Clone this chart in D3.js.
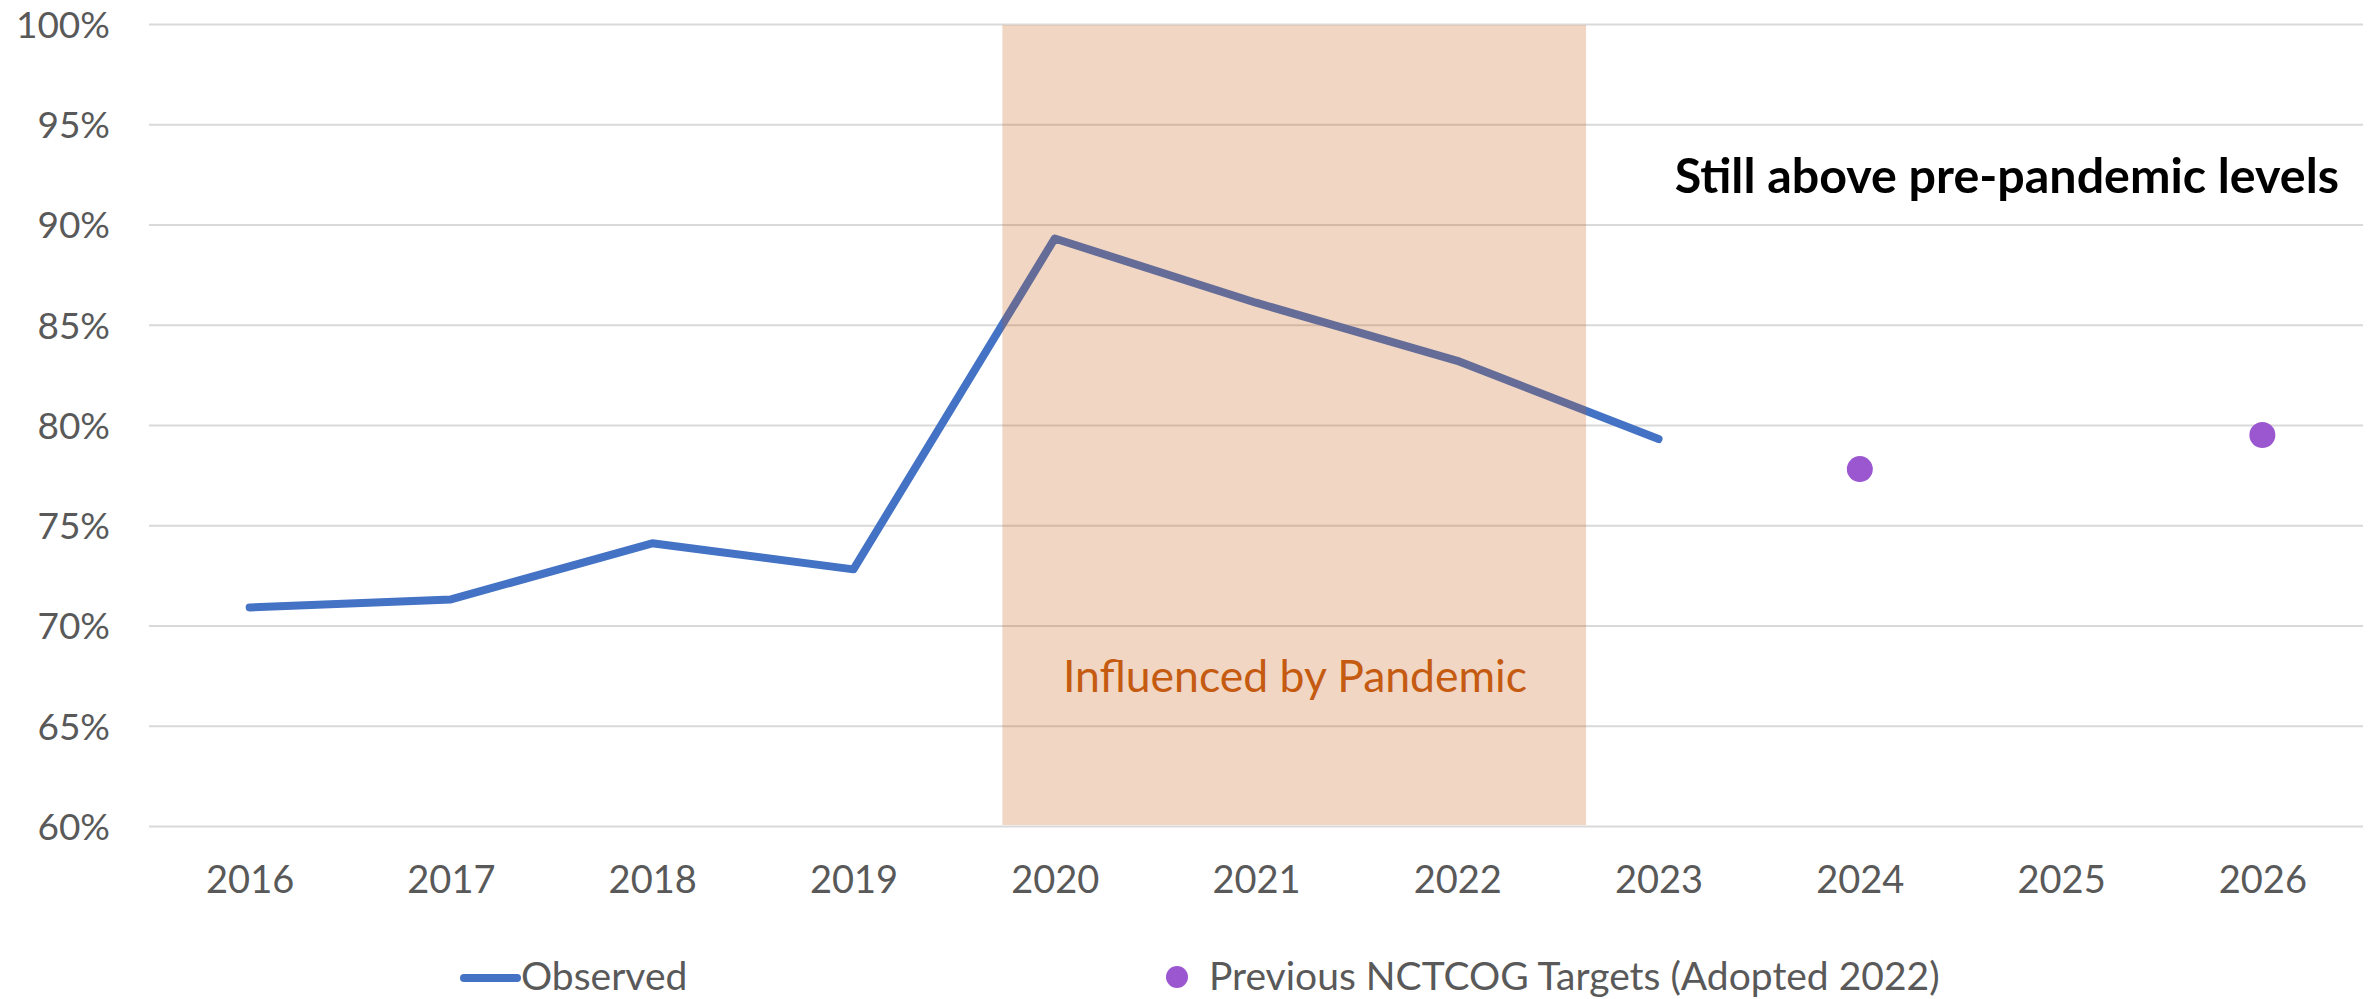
<!DOCTYPE html>
<html lang="en">
<head>
<meta charset="UTF-8">
<title>Observed vs Previous Targets</title>
<script src="https://d3js.org/d3.v7.min.js"></script>
<style>
  body { margin: 0; background: #fff; }
  .axis text { font-family: Lato, "Open Sans", sans-serif; fill: #595959; }
  .axis path { display: none; }
  .grid line { stroke: #d9d9d9; stroke-width: 2; }
  .grid path { display: none; }
</style>
</head>
<body>
<svg id="chart" width="2372" height="999"></svg>
<script>
// data
const years = [2016, 2017, 2018, 2019, 2020, 2021, 2022, 2023, 2024, 2025, 2026];
const observedYears = [2016, 2017, 2018, 2019, 2020, 2021, 2022, 2023];
const observedValues = [70.9, 71.3, 74.1, 72.8, 89.3, 86.1, 83.2, 79.3];
const targetYears = [2024, 2026];
const targetValues = [77.8, 79.5];
const pandemicSpan = [2019.74, 2022.64];
const yTicks = [60, 65, 70, 75, 80, 85, 90, 95, 100];

const svg = d3.select("#chart");
const plotLeft = 149, plotRight = 2363, plotTop = 24, plotBottom = 826;

const x = d3.scaleLinear().domain([2015.5, 2026.5]).range([plotLeft, plotRight]);
const y = d3.scaleLinear().domain([60, 100]).range([plotBottom, plotTop]);

// gridlines
svg.append("g").attr("class", "grid")
    .attr("transform", `translate(${plotLeft},0)`)
    .call(d3.axisLeft(y).tickValues(yTicks).tickSize(-(plotRight - plotLeft)).tickFormat(""));

// y labels
svg.append("g").attr("class", "axis")
    .attr("transform", `translate(${plotLeft},0)`)
    .call(d3.axisLeft(y).tickValues(yTicks).tickSize(0).tickPadding(39).tickFormat(d => d + "%"))
    .selectAll("text").style("font-size", "37px").attr("dy", "0.36em");

// x labels
svg.append("g").attr("class", "axis")
    .attr("transform", `translate(0,${plotBottom})`)
    .call(d3.axisBottom(x).tickValues(years).tickSize(0).tickPadding(40).tickFormat(d3.format("d")))
    .selectAll("text").style("font-size", "38px");

// observed line
const line = d3.line().x((d, i) => x(observedYears[i])).y(d => y(d));
svg.append("path")
    .datum(observedValues)
    .attr("d", line)
    .attr("fill", "none")
    .attr("stroke", "#4472c4")
    .attr("stroke-width", 8)
    .attr("stroke-linecap", "round")
    .attr("stroke-linejoin", "round");

// pandemic band, translucent, on top of the line
svg.append("rect")
    .attr("x", x(pandemicSpan[0]))
    .attr("width", x(pandemicSpan[1]) - x(pandemicSpan[0]))
    .attr("y", y(100) + 1)
    .attr("height", y(60) - y(100) - 2)
    .attr("fill", "#c55a11")
    .attr("fill-opacity", 0.25);

svg.append("text")
    .attr("x", 1295)
    .attr("y", 692)
    .attr("text-anchor", "middle")
    .style("font-family", "Lato, sans-serif")
    .style("font-size", "44.5px")
    .attr("fill", "#c55a11")
    .text("Influenced by Pandemic");

// targets
svg.selectAll("circle.target")
    .data(targetValues)
    .join("circle")
    .attr("class", "target")
    .attr("cx", (d, i) => x(targetYears[i]))
    .attr("cy", d => y(d))
    .attr("r", 13)
    .attr("fill", "#9b57cf");

// annotation
svg.append("text")
    .attr("x", 2339)
    .attr("y", 193)
    .attr("text-anchor", "end")
    .style("font-family", "Lato, sans-serif")
    .style("font-weight", "bold")
    .style("font-size", "48.4px")
    .attr("fill", "#000")
    .text("Still above pre-pandemic levels");

// legend
const legend = svg.append("g").style("font-family", "Lato, sans-serif").style("font-size", "39px");
legend.append("line")
    .attr("x1", 464).attr("x2", 517).attr("y1", 978).attr("y2", 978)
    .attr("stroke", "#4472c4").attr("stroke-width", 8).attr("stroke-linecap", "round");
legend.append("text").attr("x", 521).attr("y", 990).attr("fill", "#595959").text("Observed");
legend.append("circle").attr("cx", 1177).attr("cy", 977).attr("r", 11).attr("fill", "#9b57cf");
legend.append("text").attr("x", 1209).attr("y", 990).attr("fill", "#595959").text("Previous NCTCOG Targets (Adopted 2022)");
</script>
</body>
</html>
